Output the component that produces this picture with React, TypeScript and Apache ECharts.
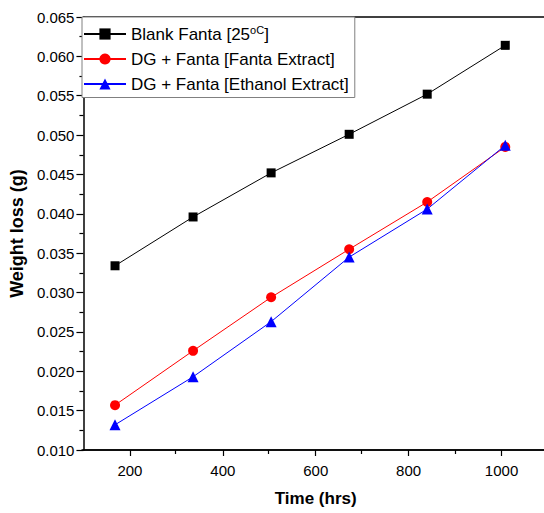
import React, { useEffect, useRef } from "react";
import * as echarts from "echarts";

// Exposure time in hours (one reading per week)
const hours = [168, 336, 504, 672, 840, 1008];

// Weight loss (g) per sample
const blankFanta = [0.0334, 0.0396, 0.0452, 0.0501, 0.0552, 0.0614];
const fantaExtract = [0.0157, 0.0226, 0.0294, 0.0355, 0.0415, 0.0485];
const ethanolExtract = [0.0132, 0.0193, 0.0263, 0.0345, 0.0406, 0.0487];

const seriesNames = [
  "Blank Fanta [25oC]",
  "DG + Fanta [Fanta Extract]",
  "DG + Fanta [Ethanol Extract]",
];

// Tick positions on the time axis
const majorTimeTicks = [200, 400, 600, 800, 1000];
const minorTimeTicks = [300, 500, 700, 900];

const FONT = "'Liberation Sans', Arial, sans-serif";
const TIME_MIN = 100;
const TIME_MAX = 1100;

const pairs = (xs: number[], ys: number[]) => xs.map((x, i) => [x, ys[i]]);

// the frame runs slightly past the visible page on the right
const CANVAS_W = 548;
const CANVAS_H = 513;
const gridBox = { left: 82, top: 17, right: 0, bottom: 63 };

export default function App() {
  const ref = useRef<HTMLDivElement>(null);

  useEffect(() => {
    if (!ref.current) return;
    const chart = echarts.init(ref.current, null, {
      renderer: "svg",
      width: CANVAS_W,
      height: CANVAS_H,
    });

    const common = {
      type: "line" as const,
      lineStyle: { width: 1 },
      z: 3,
    };

    chart.setOption({
      animation: false,
      backgroundColor: "#ffffff",
      textStyle: { fontFamily: FONT },
      grid: [{ ...gridBox }, { ...gridBox }],
      legend: {
        left: 82,
        top: 17,
        orient: "vertical",
        padding: [7, 6, 5, 1],
        itemGap: 8,
        itemWidth: 42,
        itemHeight: 14,
        borderColor: "#808080",
        borderWidth: 1,
        backgroundColor: "#fff",
        z: 10,
        data: seriesNames,
        textStyle: {
          fontFamily: FONT,
          fontSize: 17,
          color: "#000",
          lineHeight: 16,
          rich: {
            t: { fontFamily: FONT, fontSize: 17, color: "#000" },
            sup: {
              fontFamily: FONT,
              fontSize: 11,
              color: "#000",
              padding: [0, 0, 9, 0],
            },
          },
        },
        formatter: (name: string) =>
          name === seriesNames[0]
            ? "{t|Blank Fanta [25}{sup|oC}{t|]}"
            : "{t|" + name + "}",
      },
      xAxis: [
        {
          type: "value",
          gridIndex: 0,
          position: "bottom",
          min: TIME_MIN,
          max: TIME_MAX,
          name: "Time (hrs)",
          nameLocation: "middle",
          nameGap: 40,
          nameTextStyle: {
            fontFamily: FONT,
            fontSize: 17,
            fontWeight: "bold",
            color: "#000",
          },
          axisLine: { show: true, lineStyle: { color: "#000", width: 1.5 } },
          axisTick: {
            show: true,
            length: 6,
            lineStyle: { color: "#000", width: 1.2 },
            customValues: majorTimeTicks,
          },
          axisLabel: {
            fontFamily: FONT,
            fontSize: 15,
            color: "#000",
            margin: 13,
            customValues: majorTimeTicks,
            formatter: (v: number) => String(v),
          },
          splitLine: { show: false },
        },
        {
          // top frame line
          type: "value",
          gridIndex: 0,
          position: "top",
          min: TIME_MIN,
          max: TIME_MAX,
          axisLine: { show: true, lineStyle: { color: "#000", width: 1.5 } },
          axisTick: { show: false },
          axisLabel: { show: false },
          splitLine: { show: false },
        },
        {
          // minor ticks between the labelled ones
          type: "value",
          gridIndex: 1,
          position: "bottom",
          min: TIME_MIN,
          max: TIME_MAX,
          axisLine: { show: true, lineStyle: { color: "#000", width: 1.5 } },
          axisTick: {
            show: true,
            length: 4,
            lineStyle: { color: "#000", width: 1.2 },
            customValues: minorTimeTicks,
          },
          axisLabel: {
            show: true,
            color: "transparent",
            customValues: minorTimeTicks,
          },
          splitLine: { show: false },
        },
      ],
      yAxis: [
        {
          type: "value",
          gridIndex: 0,
          min: 0.01,
          max: 0.065,
          interval: 0.005,
          name: "Weight loss (g)",
          nameLocation: "middle",
          nameGap: 56,
          nameTextStyle: {
            fontFamily: FONT,
            fontSize: 18,
            fontWeight: "bold",
            color: "#000",
          },
          axisLine: { show: true, lineStyle: { color: "#000", width: 1.5 } },
          axisTick: { show: true, length: 7, lineStyle: { color: "#000", width: 1.2 } },
          minorTick: {
            show: true,
            splitNumber: 2,
            length: 4,
            lineStyle: { color: "#000", width: 1.2 },
          },
          axisLabel: {
            fontFamily: FONT,
            fontSize: 15,
            color: "#000",
            margin: 9,
            formatter: (v: number) => v.toFixed(3),
          },
          splitLine: { show: false },
          minorSplitLine: { show: false },
        },
        {
          type: "value",
          gridIndex: 1,
          min: 0.01,
          max: 0.065,
          axisLine: { show: false },
          axisTick: { show: false },
          axisLabel: { show: false },
          splitLine: { show: false },
        },
      ],
      series: [
        {
          ...common,
          name: seriesNames[0],
          data: pairs(hours, blankFanta),
          color: "#000000",
          symbol: "rect",
          symbolSize: 9,
        },
        {
          ...common,
          name: seriesNames[1],
          data: pairs(hours, fantaExtract),
          color: "#ff0000",
          symbol: "circle",
          symbolSize: 10,
        },
        {
          ...common,
          name: seriesNames[2],
          data: pairs(hours, ethanolExtract),
          color: "#0000ff",
          symbol: "triangle",
          symbolSize: 11,
        },
      ],
    });

    return () => chart.dispose();
  }, []);

  return (
    <div
      style={{
        position: "fixed",
        left: 0,
        top: 0,
        width: 544,
        height: 513,
        overflow: "hidden",
      }}
    >
      <div ref={ref} style={{ width: CANVAS_W, height: CANVAS_H }} />
    </div>
  );
}
